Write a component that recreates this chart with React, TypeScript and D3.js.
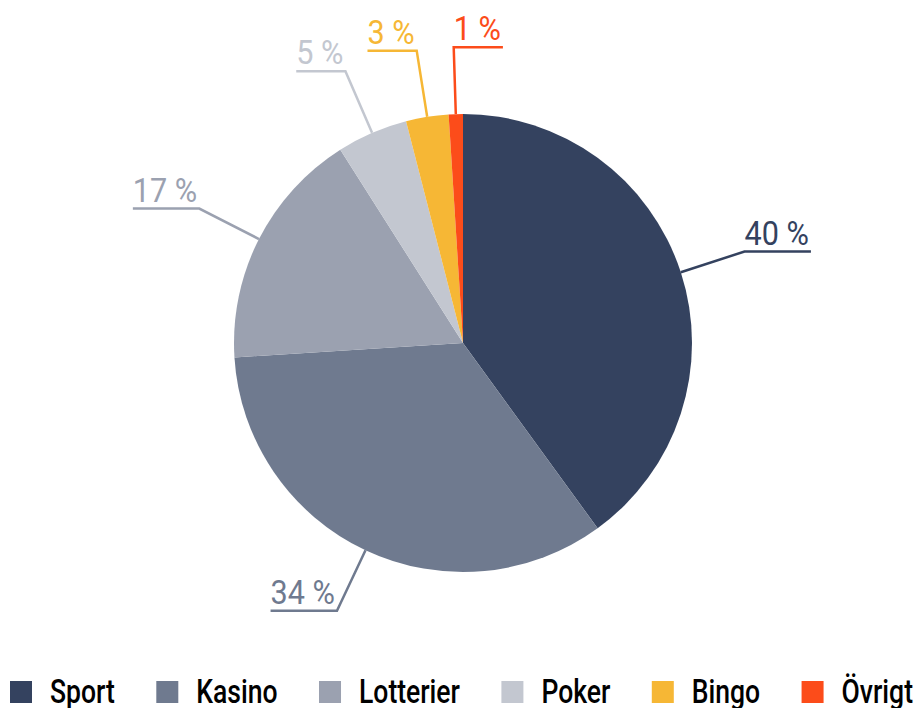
import React, { useEffect, useRef } from 'react';
import * as d3 from 'd3';

const categories = ['Sport', 'Kasino', 'Lotterier', 'Poker', 'Bingo', 'Övrigt'];
const values = [40, 34, 17, 5, 3, 1];
const colors = ['#34425f', '#6f7a8f', '#9ba1b0', '#c3c7d0', '#f6b735', '#fc4c1a'];

const W = 915;
const H = 708;
const FONT = "Roboto, 'Noto Sans', sans-serif";

export default function App() {
  const ref = useRef<SVGSVGElement>(null);

  useEffect(() => {
    const svg = d3.select(ref.current);
    svg.selectAll('*').remove();
    const cx = 463, cy = 343, r = 229;
    const pie = d3.pie<number>().sort(null).value((d) => d);
    const arcs = pie(values);
    const arc = d3.arc<d3.PieArcDatum<number>>().innerRadius(0).outerRadius(r);
    const g = svg.append('g').attr('transform', `translate(${cx},${cy})`);
    g.selectAll('path.slice')
      .data(arcs)
      .join('path')
      .attr('class', 'slice')
      .attr('d', arc as any)
      .attr('fill', (_d, i) => colors[i]);

    const kLabel = 0.9;
    arcs.forEach((a, i) => {
      const mid = (a.startAngle + a.endAngle) / 2;
      const p0 = [r * Math.sin(mid), -r * Math.cos(mid)];
      const p1 = [(r + 67) * Math.sin(mid), -(r + 67) * Math.cos(mid)];
      const right = Math.sin(mid) > -0.05;
      const t = g.append('text')
        .text(`${values[i]} %`)
        .attr('font-family', FONT)
        .attr('font-size', 34)
        .attr('fill', colors[i]);
      const w = (t.node() as SVGTextElement).getComputedTextLength() * kLabel;
      const L = w + 2;
      const endX = right ? p1[0] + L : p1[0] - L;
      const tx = right ? p1[0] : endX;
      t.attr('transform', `translate(${tx},${p1[1] - 7}) scale(${kLabel},1)`);
      g.append('path')
        .attr('d', d3.line()([[p0[0], p0[1]], [p1[0], p1[1]], [endX, p1[1]]] as any) as string)
        .attr('fill', 'none')
        .attr('stroke', colors[i])
        .attr('stroke-width', 2.5);
    });

    // legend
    const kLeg = 0.78;
    const lg = svg.append('g');
    const sq = 22, gap = 18, x0 = 10, x1 = 913, base = 703;
    const items = categories.map((c, i) => {
      const t = lg.append('text')
        .text(c)
        .attr('font-family', FONT)
        .attr('font-size', 34)
        .attr('font-weight', 500)
        .attr('fill', '#000');
      const w = (t.node() as SVGTextElement).getComputedTextLength() * kLeg;
      return { t, w, i };
    });
    const total = items.reduce((s, it) => s + sq + gap + it.w, 0);
    const spacing = (x1 - x0 - total) / (items.length - 1);
    let x = x0;
    items.forEach((it) => {
      lg.append('rect')
        .attr('x', x)
        .attr('y', base - sq)
        .attr('width', sq)
        .attr('height', sq)
        .attr('fill', colors[it.i]);
      it.t.attr('transform', `translate(${x + sq + gap},${base}) scale(${kLeg},1)`);
      x += sq + gap + it.w + spacing;
    });
  }, []);

  return (
    <svg
      ref={ref}
      width={W}
      height={H}
      style={{ position: 'absolute', left: 0, top: 0, background: '#fff' }}
    />
  );
}
